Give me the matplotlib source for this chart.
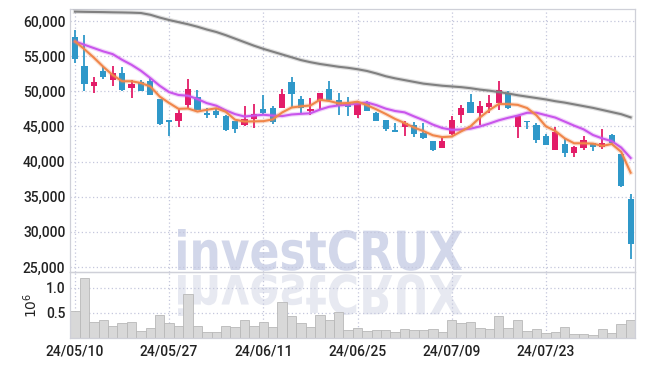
import matplotlib
matplotlib.use("Agg")
import matplotlib.pyplot as plt
import numpy as np
from matplotlib.textpath import TextPath
from matplotlib.patches import PathPatch
from matplotlib.font_manager import FontProperties
from matplotlib.transforms import Affine2D

# daily candles, 24/05/10 .. 24/08/05
dates = ["24/05/10", "24/05/27", "24/06/11", "24/06/25", "24/07/09", "24/07/23"]
date_pos = [0, 10, 20, 30, 40, 50]

opens = [57700, 53650, 50800, 52950, 51650, 52600, 50450, 51400, 51500, 48900,
         45900, 45800, 48100, 49200, 46900, 47150, 46550, 45750, 45150, 46050,
         47500, 47650, 47650, 51300, 48900, 47200, 48650, 50400, 48750, 48300,
         46700, 48450, 46950, 45900, 44500, 44950, 45200, 44100, 42900, 41950,
         43900, 46600, 48500, 46850, 47800, 48350, 49800, 44950, 45800, 45200,
         43650, 41650, 42500, 41250, 41950, 42600, 42100, 43800, 41050, 34650]
highs = [58750, 57950, 52000, 53400, 53550, 53400, 51650, 51550, 51900, 48950,
         45950, 47600, 51750, 50200, 47600, 47600, 46600, 45750, 47850, 48200,
         49450, 47900, 50400, 52050, 49350, 49000, 49800, 51450, 49700, 49250,
         48600, 48600, 47100, 45950, 45500, 45750, 45600, 45450, 43000, 43550,
         46500, 48050, 49600, 48600, 49450, 51450, 50100, 46550, 45850, 45450,
         44000, 44950, 43300, 42200, 43650, 42650, 44600, 44000, 41100, 35400]
lows = [54000, 50100, 49700, 51800, 50700, 50100, 49050, 50000, 49450, 45150,
        43600, 44900, 47600, 47300, 46200, 46200, 44300, 44050, 45100, 44850,
        46600, 45350, 47600, 47800, 46850, 46600, 47350, 48650, 46600, 46500,
        46150, 47200, 45750, 44400, 44200, 43650, 43550, 43250, 41500, 41900,
        43800, 45450, 46900, 45200, 46950, 47350, 47500, 43300, 44600, 42700,
        42300, 41600, 40700, 40700, 41650, 41550, 41750, 42500, 36450, 26100]
closes = [54650, 51050, 51300, 52050, 52600, 50200, 51050, 50100, 49500, 45400,
          45650, 46900, 50300, 47350, 46650, 46650, 44450, 44650, 46100, 46750,
          46850, 45650, 49600, 49600, 47600, 47450, 49700, 48750, 47950, 47800,
          48450, 47250, 45800, 44650, 44250, 45500, 44000, 43300, 41650, 42950,
          45900, 47650, 46950, 47900, 48300, 50200, 47600, 46500, 45600, 43050,
          42350, 44250, 41250, 42100, 43050, 42100, 42700, 42600, 36500, 28250]

ma5 = [57100, 56000, 54800, 53500, 52320, 51440, 51440, 51190, 50690, 49250,
       48340, 47510, 47560, 47130, 47380, 47590, 47100, 45960, 45710, 45730,
       45760, 46010, 47000, 47700, 47870, 47990, 48800, 48630, 48290, 48340,
       48530, 48030, 47440, 46780, 46070, 45490, 44850, 44350, 43750, 43490,
       43570, 44300, 45020, 46280, 47340, 48200, 48180, 48080, 47630, 46590,
       45020, 44360, 43310, 42610, 42610, 42560, 42240, 42510, 41390, 38430]
ma10 = [57100, 56630, 56160, 55690, 55300, 54490, 53780, 52930, 51890, 50790,
        49890, 49480, 49380, 48910, 48320, 47960, 47300, 46760, 46420, 46560,
        46670, 46550, 46480, 46710, 46800, 46880, 47400, 47810, 48000, 48100,
        48260, 48420, 48040, 47540, 47200, 47010, 46440, 45900, 45270, 44780,
        44530, 44570, 44690, 45010, 45420, 45880, 46240, 46550, 46950, 46960,
        46610, 46270, 45700, 45120, 44600, 43790, 43300, 42910, 42000, 40520]
ma_long = [61350, 61320, 61300, 61280, 61250, 61230, 61200, 61150, 60900, 60500,
           60150, 59850, 59550, 59200, 58800, 58450, 58000, 57500, 57000, 56500,
           56050, 55650, 55250, 54850, 54450, 54150, 53900, 53700, 53500, 53350,
           53150, 52900, 52550, 52150, 51850, 51600, 51350, 51100, 50950, 50800,
           50700, 50600, 50450, 50250, 50100, 49900, 49700, 49450, 49250, 49050,
           48850, 48600, 48400, 48150, 47900, 47650, 47350, 47050, 46750, 46300]

# volume, in millions
volume = [0.54, 1.19, 0.32, 0.35, 0.23, 0.29, 0.31, 0.14, 0.19, 0.46,
          0.29, 0.23, 0.88, 0.23, 0.12, 0.12, 0.23, 0.21, 0.35, 0.23,
          0.31, 0.21, 0.71, 0.43, 0.29, 0.21, 0.46, 0.36, 0.51, 0.16,
          0.19, 0.14, 0.15, 0.15, 0.12, 0.18, 0.15, 0.15, 0.17, 0.12,
          0.35, 0.29, 0.31, 0.19, 0.17, 0.43, 0.20, 0.35, 0.14, 0.17,
          0.10, 0.12, 0.21, 0.07, 0.07, 0.05, 0.17, 0.10, 0.28, 0.35]

UP = "#e31c68"
DOWN = "#2f98c9"
GRID = "#c4c7dc"
SPINE = "#cfd0d8"

plt.rcParams["font.family"] = ["Roboto", "DejaVu Sans"]

fig = plt.figure(figsize=(6.45, 3.66), dpi=100)
fig.patch.set_facecolor("white")
ax = fig.add_axes([0.109, 0.257, 0.876, 0.718])
axv = fig.add_axes([0.109, 0.0765, 0.876, 0.1805], sharex=ax)
for a in (ax, axv):
    a.set_facecolor("none")
    for s in a.spines.values():
        s.set_color(SPINE)
        s.set_linewidth(0.9)
    a.grid(True, color=GRID, linestyle=(0, (1, 2)), linewidth=0.9)
    a.set_axisbelow(True)
    a.tick_params(length=0, labelsize=10, colors="#222222")
    for lab in a.get_yticklabels():
        lab.set_fontweight("medium")

# watermark + its reflection
tp = TextPath((0, 0), "investCRUX", size=50,
              prop=FontProperties(family="DejaVu Sans", weight="bold"))
bb = tp.get_extents()
sx = 284 / bb.width
sy = 41 / bb.y1
wm = PathPatch(tp, facecolor="#d2d7ea", edgecolor="none", zorder=-2,
               transform=Affine2D().scale(sx, sy).translate(178 - bb.x0 * sx, 96))
wm2 = PathPatch(tp, facecolor="#e7e9f1", edgecolor="none", zorder=-2,
                transform=Affine2D().scale(sx, -sy).translate(178 - bb.x0 * sx, 91))
fig.add_artist(wm)
fig.add_artist(wm2)

x = np.arange(len(closes))
o = np.array(opens)
c = np.array(closes)
cols = [UP if cc >= oo else DOWN for oo, cc in zip(o, c)]
ax.vlines(x, lows, highs, colors=cols, linewidth=1.3, zorder=2)
ax.bar(x, np.maximum(np.abs(c - o), 60), 0.66, bottom=np.minimum(o, c),
       color=cols, zorder=3)

for vals, col in ((ma_long, "#808080"), (ma10, "#c955ec"), (ma5, "#f0864a")):
    ax.plot(x, vals, color=col, linewidth=3.2, alpha=0.25, zorder=4)
    ax.plot(x, vals, color=col, linewidth=1.5, zorder=4)

ax.set_xlim(-0.5, 59.5)
ax.set_ylim(24300, 61700)
ax.set_yticks(np.arange(25000, 60001, 5000))
ax.set_yticklabels([f"{v:,}" for v in range(25000, 60001, 5000)], fontweight="medium")
ax.tick_params(labelbottom=False)

axv.bar(x, volume, 1.0, color="#d8d8d8", edgecolor="#b8b8b8", linewidth=0.6, zorder=2)
axv.set_ylim(0, 1.32)
axv.set_yticks([0.5, 1.0])
axv.set_yticklabels(["0.5", "1.0"], fontweight="medium")
axv.set_ylabel("$10^6$", fontsize=10, color="#222222", labelpad=4)
axv.set_xticks(date_pos)
axv.set_xticklabels(dates, fontsize=10, fontweight="medium")
axv.tick_params(axis="x", pad=5)

fig.savefig("out.png", dpi=100)
